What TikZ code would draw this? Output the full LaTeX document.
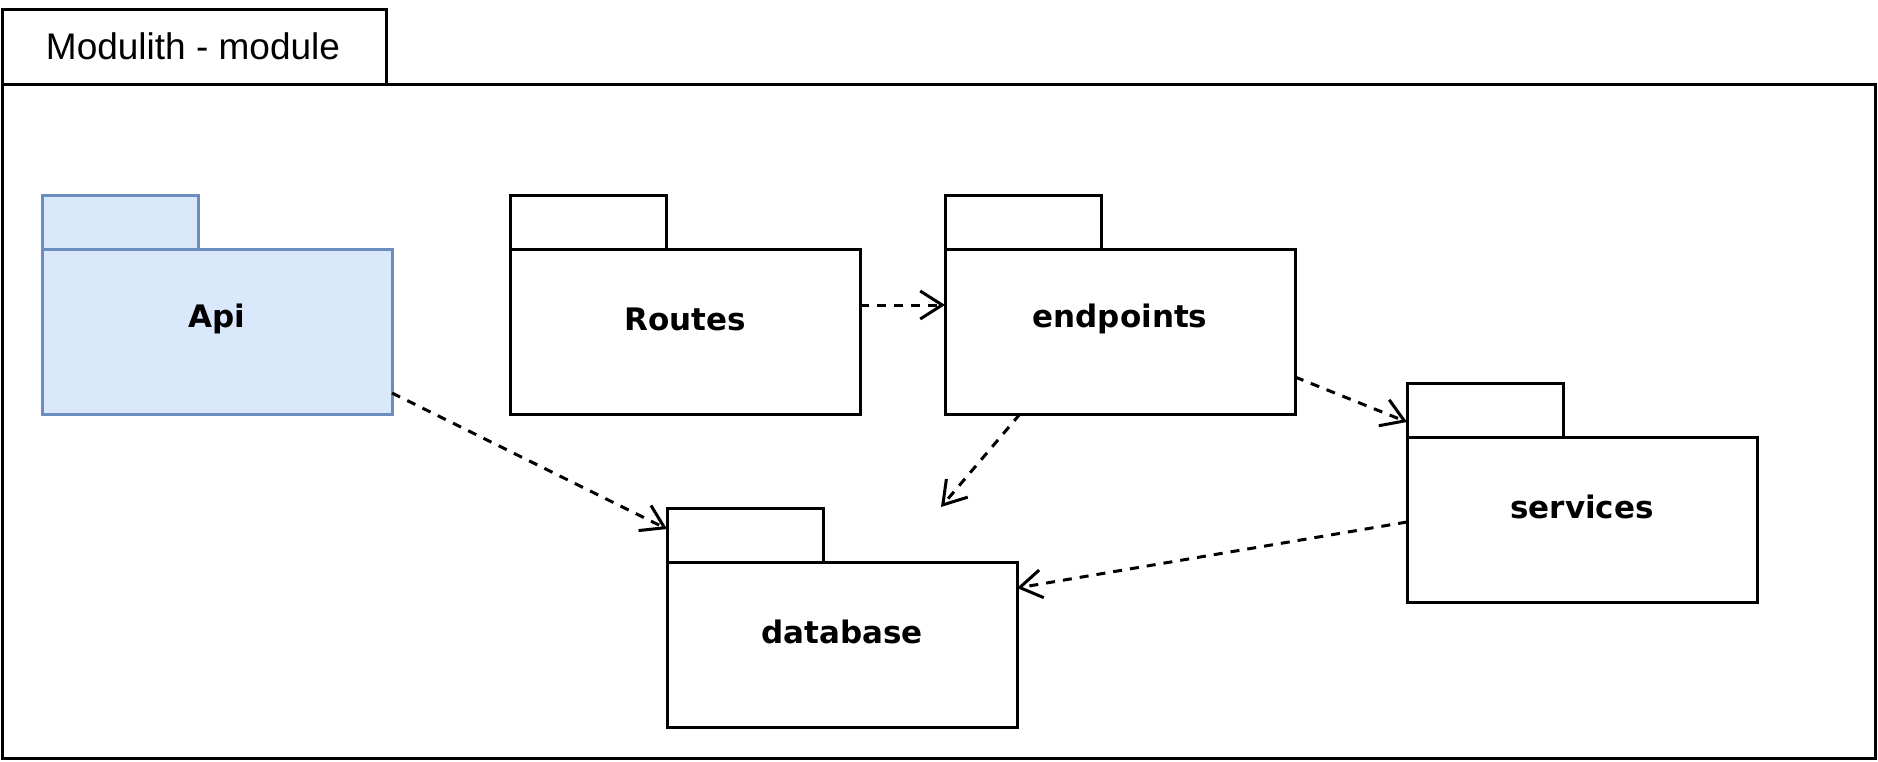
\documentclass[tikz,border=0pt]{standalone}
\usepackage{fontspec}
\setmainfont{Liberation Sans}
\newfontfamily\lblfont{DejaVu Sans}
\usetikzlibrary{arrows.meta,calc}
\definecolor{apifill}{HTML}{DAE8FC}
\definecolor{apistroke}{HTML}{6C8EBF}
\tikzset{
  frame/.style={draw=black, line width=1.5pt, fill=white, inner sep=0pt},
  pkg/.style={draw=black, line width=1.5pt, fill=white, inner sep=0pt, outer sep=0pt},
  pkgblue/.style={pkg, draw=apistroke, fill=apifill},
  body/.style={minimum width=175pt, minimum height=82.5pt, anchor=north west},
  tab/.style={minimum width=78pt, minimum height=27pt, anchor=south west},
  lbltxt/.style={font=\lblfont\bfseries\fontsize{15.5pt}{18pt}\selectfont, inner sep=0pt},
  dep/.style={line width=1.5pt, dash pattern=on 4.5pt off 4pt, -{Straight Barb[length=11pt,width=14pt,line width=1.5pt]}}
}
\begin{document}
\begin{tikzpicture}[x=0.5pt, y=-0.5pt]
\useasboundingbox (0,0) rectangle (1878,761);
% outer frame
\draw[frame] (2,9) rectangle (386,84);
\draw[frame] (2,84) rectangle (1875,758);
\node[font=\fontsize{18.5pt}{21pt}\selectfont, inner sep=0pt] (title) at (193,46) {Modulith - module};
% packages
\node[pkgblue, body] (api) at (42,249) {};
\node[pkgblue, tab] (apitab) at (api.north west) {};
\node[lbltxt] (apil) at ($(api.north)+(0,70)$) {Api};

\node[pkg, body] (routes) at (510,249) {};
\node[pkg, tab] (routestab) at (routes.north west) {};
\node[lbltxt] (routesl) at ($(routes.north)+(0,70)$) {Routes};

\node[pkg, body] (endpoints) at (945,249) {};
\node[pkg, tab] (endpointstab) at (endpoints.north west) {};
\node[lbltxt] (endpointsl) at ($(endpoints.north)+(0,70)$) {endpoints};

\node[pkg, body] (services) at (1407,437) {};
\node[pkg, tab] (servicestab) at (services.north west) {};
\node[lbltxt] (servicesl) at ($(services.north)+(0,70)$) {services};

\node[pkg, body] (database) at (667,562) {};
\node[pkg, tab] (databasetab) at (database.north west) {};
\node[lbltxt] (databasel) at ($(database.north)+(0,70)$) {database};

\coordinate (dbend) at ($(database.north west)+(274,-55)$);
% dependencies
\draw[dep] ($(routes.north east)+(0,56)$) -- ($(endpoints.north west)+(0,56)$);
\draw[dep] ($(endpoints.north east)+(0,128)$) -- ($(servicestab.south west)+(0,-15)$);
\draw[dep] ($(endpoints.south west)+(75,0)$) -- (dbend);
\draw[dep] ($(api.north east)+(0,144)$) -- ($(databasetab.south west)+(0,-33)$);
\draw[dep] ($(services.north west)+(0,85)$) -- ($(database.north east)+(0,26)$);
\end{tikzpicture}
\end{document}
